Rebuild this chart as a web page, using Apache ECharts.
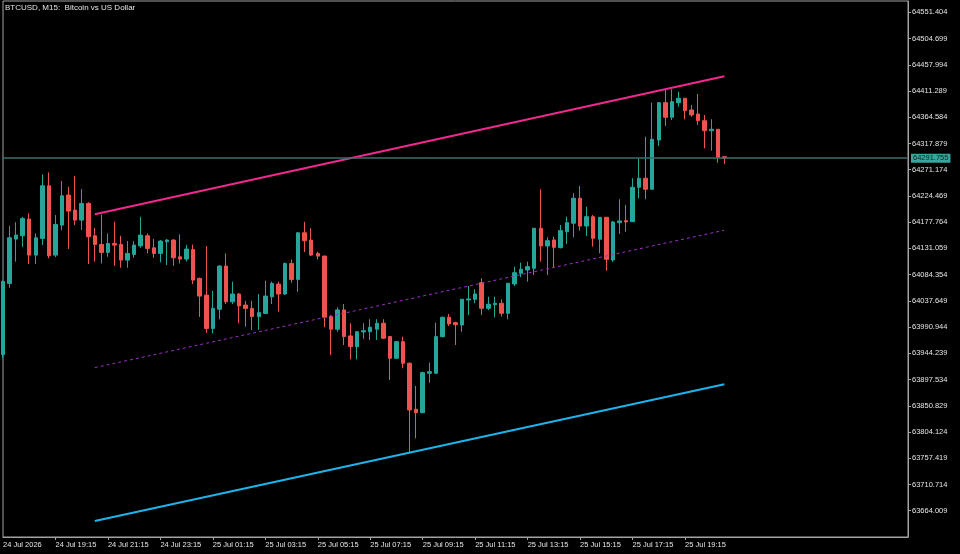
<!DOCTYPE html>
<html>
<head>
<meta charset="utf-8">
<title>BTCUSD M15</title>
<script src="https://cdn.jsdelivr.net/npm/echarts@6/dist/echarts.min.js"></script>
<style>
html, body { margin: 0; padding: 0; background: #000; }
#chart { width: 960px; height: 554px; }
</style>
</head>
<body>
<div id="chart"></div>
<script>
var chartTitle = 'BTCUSD, M15:  Bitcoin vs US Dollar';

// 15 minute bars, 24 Jul 17:15 onward; slots past the last bar stay empty
var slotCount = 139;
var categories = [];
for (var i = 0; i < slotCount; i++) {
    var mins = 17 * 60 + 15 + i * 15;
    var day = 24 + Math.floor(mins / 1440);
    mins = mins % 1440;
    categories.push(day + ' Jul ' + ('0' + Math.floor(mins / 60)).slice(-2) + ':' + ('0' + mins % 60).slice(-2));
}

// bottom labels, one every 8 bars (2 hours)
var xTickLabels = ['24 Jul 2026', '24 Jul 19:15', '24 Jul 21:15', '24 Jul 23:15', '25 Jul 01:15',
    '25 Jul 03:15', '25 Jul 05:15', '25 Jul 07:15', '25 Jul 09:15', '25 Jul 11:15',
    '25 Jul 13:15', '25 Jul 15:15', '25 Jul 17:15', '25 Jul 19:15'];

var yTicks = [63664.009, 63710.714, 63757.419, 63804.124, 63850.829, 63897.534, 63944.239,
    63990.944, 64037.649, 64084.354, 64131.059, 64177.764, 64224.469, 64271.174, 64317.879,
    64364.584, 64411.289, 64457.994, 64504.699, 64551.404];
var yMin = 63617.2;
var yMax = 64571.5;

// [open, close, low, high]
var candles = [
    [63942.0, 64072.0, 63936.0, 64074.0],
    [64068.7, 64149.9, 64060.9, 64171.2],
    [64147.6, 64154.7, 64107.5, 64177.6],
    [64153.5, 64184.4, 64133.9, 64187.3],
    [64183.2, 64119.1, 64103.1, 64193.3],
    [64119.1, 64149.9, 64103.1, 64157.7],
    [64148.8, 64242.5, 64136.9, 64262.8],
    [64242.5, 64117.9, 64113.2, 64266.3],
    [64119.1, 64173.7, 64115.5, 64190.3],
    [64172.5, 64224.7, 64163.6, 64251.0],
    [64226.0, 64197.4, 64129.8, 64240.7],
    [64199.2, 64181.4, 64172.5, 64260.2],
    [64181.4, 64211.1, 64163.6, 64236.6],
    [64211.1, 64151.7, 64103.1, 64213.4],
    [64153.5, 64138.1, 64107.5, 64167.7],
    [64138.1, 64123.9, 64104.3, 64191.5],
    [64123.9, 64139.9, 64116.1, 64157.7],
    [64139.9, 64136.9, 64100.0, 64178.4],
    [64138.1, 64110.2, 64096.5, 64153.5],
    [64110.2, 64122.1, 64096.5, 64144.0],
    [64120.3, 64136.9, 64114.3, 64144.0],
    [64135.6, 64154.7, 64132.1, 64187.3],
    [64153.5, 64131.0, 64122.1, 64157.7],
    [64132.1, 64122.1, 64114.3, 64147.6],
    [64122.1, 64144.0, 64106.1, 64145.8],
    [64142.8, 64145.8, 64101.3, 64147.6],
    [64145.8, 64114.3, 64100.0, 64147.6],
    [64116.1, 64112.0, 64104.3, 64156.0],
    [64112.0, 64129.8, 64107.5, 64136.9],
    [64128.9, 64074.6, 64067.5, 64137.8],
    [64077.6, 64046.1, 64009.0, 64079.0],
    [64047.9, 63988.6, 63980.8, 64135.1],
    [63988.6, 64024.2, 63979.7, 64055.5],
    [64022.7, 64099.5, 64004.9, 64101.3],
    [64099.5, 64036.0, 64031.9, 64122.1],
    [64036.0, 64049.8, 64031.9, 64071.9],
    [64049.8, 64028.6, 63997.8, 64051.7],
    [64030.1, 64024.2, 63991.8, 64037.8],
    [64024.2, 64009.6, 63985.9, 64037.8],
    [64009.6, 64016.7, 63985.9, 64049.8],
    [64015.3, 64046.1, 64014.0, 64073.6],
    [64044.9, 64068.7, 64031.9, 64071.9],
    [64067.5, 64049.8, 64018.4, 64071.9],
    [64049.8, 64104.3, 64048.0, 64105.8],
    [64104.3, 64075.8, 64069.8, 64111.4],
    [64075.8, 64158.8, 64054.0, 64160.0],
    [64158.8, 64144.6, 64124.7, 64178.4],
    [64145.8, 64119.1, 64117.3, 64166.9],
    [64122.1, 64117.3, 64111.4, 64125.0],
    [64117.3, 64008.5, 63990.7, 64118.2],
    [64009.6, 63987.2, 63941.1, 64012.3],
    [63987.2, 64021.5, 63982.6, 64026.3],
    [64021.5, 63974.0, 63958.9, 64031.9],
    [63975.2, 63956.1, 63933.4, 63997.8],
    [63956.1, 63982.6, 63933.4, 63984.0],
    [63982.3, 63984.6, 63970.0, 63997.8],
    [63982.6, 63990.7, 63968.0, 64004.9],
    [63987.2, 63997.8, 63968.0, 64004.9],
    [63997.8, 63971.1, 63969.6, 64004.9],
    [63974.0, 63935.4, 63896.8, 63975.2],
    [63935.4, 63965.0, 63934.2, 63966.2],
    [63965.0, 63926.5, 63917.6, 63973.9],
    [63926.5, 63843.4, 63766.3, 63927.9],
    [63844.6, 63838.5, 63793.0, 63886.1],
    [63838.5, 63909.8, 63838.0, 63911.5],
    [63908.7, 63911.5, 63892.0, 63927.6],
    [63908.7, 63973.9, 63907.5, 63998.8],
    [63973.9, 64008.4, 63972.8, 64009.5],
    [64008.4, 63996.5, 63992.9, 64014.3],
    [63998.8, 63995.2, 63959.1, 64000.6],
    [63994.7, 64040.5, 63982.8, 64041.0],
    [64039.2, 64041.0, 64012.5, 64064.1],
    [64040.4, 64049.9, 64033.3, 64058.3],
    [64070.0, 64024.4, 64012.5, 64077.8],
    [64024.4, 64031.6, 64021.4, 64045.1],
    [64030.9, 64033.3, 64008.4, 64045.1],
    [64033.3, 64015.5, 64009.5, 64040.4],
    [64015.5, 64068.9, 64004.8, 64069.5],
    [64067.7, 64087.8, 64064.1, 64098.5],
    [64086.7, 64093.8, 64079.6, 64105.6],
    [64092.6, 64098.5, 64071.8, 64107.4],
    [64095.6, 64166.9, 64083.7, 64167.4],
    [64166.9, 64135.3, 64107.4, 64236.3],
    [64135.3, 64144.8, 64083.7, 64150.8],
    [64146.0, 64133.0, 64097.4, 64151.9],
    [64132.3, 64162.6, 64131.2, 64172.7],
    [64160.8, 64176.8, 64138.9, 64187.5],
    [64175.8, 64220.3, 64150.8, 64229.2],
    [64220.3, 64170.9, 64162.6, 64242.2],
    [64170.9, 64187.5, 64153.2, 64205.3],
    [64187.5, 64149.0, 64134.1, 64190.5],
    [64147.3, 64186.4, 64122.3, 64187.0],
    [64186.4, 64111.7, 64091.4, 64187.0],
    [64110.4, 64178.1, 64106.9, 64180.0],
    [64176.8, 64179.9, 64156.7, 64218.5],
    [64180.4, 64178.1, 64160.8, 64208.3],
    [64178.6, 64239.8, 64178.1, 64255.9],
    [64239.8, 64255.9, 64220.3, 64291.5],
    [64255.9, 64236.3, 64218.5, 64329.9],
    [64236.3, 64325.3, 64236.0, 64390.5],
    [64324.1, 64390.5, 64313.4, 64391.7],
    [64390.5, 64364.5, 64349.0, 64414.3],
    [64364.5, 64392.2, 64359.7, 64414.3],
    [64390.5, 64398.3, 64383.3, 64410.1],
    [64398.3, 64376.2, 64360.9, 64398.8],
    [64377.5, 64368.6, 64365.5, 64386.4],
    [64370.3, 64358.4, 64350.8, 64405.9],
    [64358.4, 64340.6, 64309.3, 64368.6],
    [64340.6, 64343.1, 64305.0, 64360.9],
    [64343.1, 64293.3, 64283.6, 64343.6],
    [64294.3, 64291.755, 64281.3, 64294.7]
];
var lastPrice = 64291.755;

// channel: [bar index, price] at both ends
var upperChannel = [[14, 64191.8], [110, 64437.5]];
var middleChannel = [[14, 63918.8], [110, 64163.4]];
var lowerChannel = [[14, 63645.8], [110, 63889.3]];

var textFont = 'Liberation Sans';
var axisGray = '#a3a3a3';
var labelColor = '#e4e4e4';

var chart = echarts.init(document.getElementById('chart'));
chart.setOption({
    backgroundColor: '#000',
    animation: false,
    title: {
        text: chartTitle,
        left: 0,
        top: -1,
        textStyle: { color: labelColor, fontSize: 8, fontWeight: 'normal', fontFamily: textFont }
    },
    grid: {
        left: 2,
        top: 1,
        right: 52,
        bottom: 17,
        show: true,
        borderColor: axisGray,
        borderWidth: 1,
        backgroundColor: 'transparent'
    },
    xAxis: {
        type: 'category',
        data: categories,
        boundaryGap: false,
        axisLine: { show: true, lineStyle: { color: axisGray } },
        axisTick: {
            show: true,
            length: 3,
            interval: function (index) { return index % 8 === 0 && index > 0 && index <= 104; },
            lineStyle: { color: axisGray }
        },
        axisLabel: {
            interval: function (index) { return index % 8 === 0 && index <= 104; },
            formatter: function (value, index) { return xTickLabels[index / 8] || ''; },
            align: 'left',
            margin: 4,
            color: labelColor,
            fontSize: 7.5,
            fontFamily: textFont
        },
        splitLine: { show: false }
    },
    yAxis: {
        type: 'value',
        position: 'right',
        scale: true,
        min: yMin,
        max: yMax,
        axisLine: { show: true, lineStyle: { color: axisGray } },
        axisTick: { show: true, length: 3, customValues: yTicks, lineStyle: { color: axisGray } },
        axisLabel: {
            customValues: yTicks,
            formatter: function (v) { return v.toFixed(3); },
            margin: 4,
            color: labelColor,
            fontSize: 7.5,
            fontFamily: textFont
        },
        splitLine: { show: false }
    },
    series: [
        {
            type: 'candlestick',
            data: candles,
            barWidth: 4,
            itemStyle: {
                color: '#26a69a',
                color0: '#ef5350',
                borderColor: '#26a69a',
                borderColor0: '#ef5350',
                borderWidth: 1
            },
            markLine: {
                silent: true,
                symbol: 'none',
                data: [{ yAxis: lastPrice }],
                lineStyle: { color: '#3a706c', width: 1.5, type: 'solid' },
                label: {
                    position: 'end',
                    distance: 3,
                    formatter: lastPrice.toFixed(3),
                    backgroundColor: '#38a69b',
                    color: '#0c2321',
                    padding: [1, 2, 0, 2],
                    fontSize: 7.5,
                    fontFamily: textFont
                }
            }
        },
        {
            type: 'line',
            data: upperChannel,
            symbol: 'none',
            silent: true,
            z: 4,
            lineStyle: { color: '#f2288f', width: 2 }
        },
        {
            type: 'line',
            data: middleChannel,
            symbol: 'none',
            silent: true,
            z: 4,
            lineStyle: { color: '#9a30c6', width: 1, type: [3, 3] }
        },
        {
            type: 'line',
            data: lowerChannel,
            symbol: 'none',
            silent: true,
            z: 4,
            lineStyle: { color: '#1eb4ea', width: 2 }
        }
    ]
});
</script>
</body>
</html>
